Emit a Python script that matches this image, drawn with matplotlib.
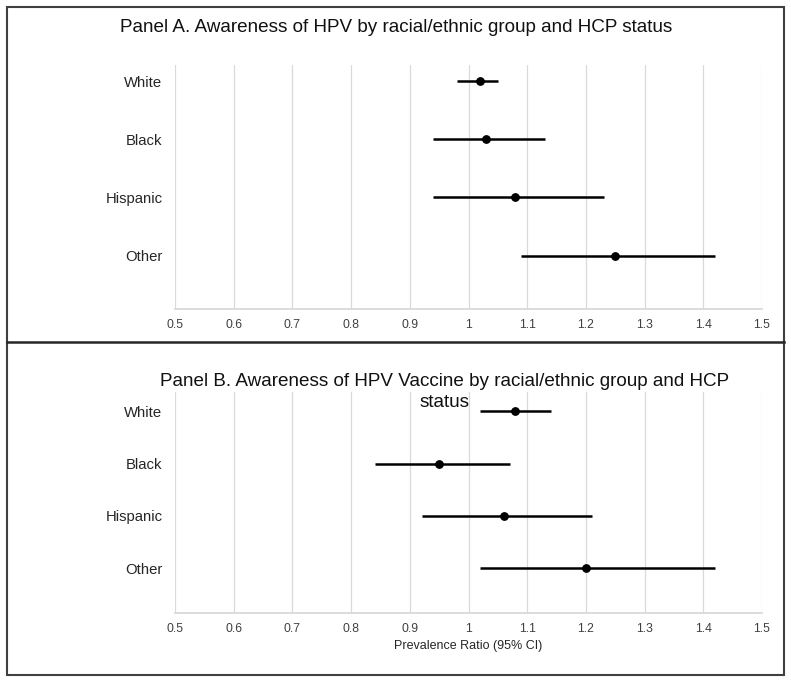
import matplotlib
matplotlib.use('Agg')
import matplotlib.pyplot as plt
from matplotlib.patches import Rectangle
from matplotlib.lines import Line2D
import numpy as np

plt.rcParams['font.family'] = ['Liberation Sans', 'DejaVu Sans']

groups = ['White', 'Black', 'Hispanic', 'Other']

# Panel A: awareness of HPV
pr_a = [1.02, 1.03, 1.08, 1.25]
lo_a = [0.98, 0.94, 0.94, 1.09]
hi_a = [1.05, 1.13, 1.23, 1.42]

# Panel B: awareness of HPV vaccine
pr_b = [1.08, 0.95, 1.06, 1.20]
lo_b = [1.02, 0.84, 0.92, 1.02]
hi_b = [1.14, 1.07, 1.21, 1.42]

xticks = [0.5, 0.6, 0.7, 0.8, 0.9, 1.0, 1.1, 1.2, 1.3, 1.4, 1.5]
xtick_labels = ['0.5', '0.6', '0.7', '0.8', '0.9', '1', '1.1', '1.2', '1.3', '1.4', '1.5']

W, H = 791, 682
fig = plt.figure(figsize=(W / 100, H / 100), dpi=100)


def px_axes(left, top, right, bottom):
    return fig.add_axes([left / W, 1 - bottom / H, (right - left) / W, (bottom - top) / H])


def draw_panel(ax, pr, lo, hi, ylim):
    pos = np.arange(len(groups))[::-1]
    pr = np.array(pr)
    err = [pr - np.array(lo), np.array(hi) - pr]
    ax.errorbar(pr, pos, xerr=err, fmt='o', color='black', ecolor='black',
                elinewidth=1.8, markersize=5.3, capsize=0, zorder=3)
    ax.set_xlim(0.5, 1.5)
    ax.set_ylim(*ylim)
    ax.set_xticks(xticks)
    ax.set_xticklabels(xtick_labels, fontsize=8.8, color='#404040')
    ax.set_yticks(pos)
    ax.set_yticklabels(groups, fontsize=10.7, color='#262626')
    ax.tick_params(length=0, pad=7)
    ax.tick_params(axis='y', pad=9)
    ax.grid(axis='x', color='#d9d9d9', linewidth=0.9)
    ax.set_axisbelow(True)
    for s in ['top', 'right', 'left']:
        ax.spines[s].set_visible(False)
    ax.spines['bottom'].set_color('#d9d9d9')
    ax.spines['bottom'].set_linewidth(1.3)
    ax.set_facecolor('none')


ax1 = px_axes(175, 65, 762, 309)
draw_panel(ax1, pr_a, lo_a, hi_a, (-0.92, 3.28))

ax2 = px_axes(175, 392, 762, 613)
draw_panel(ax2, pr_b, lo_b, hi_b, (-0.86, 3.37))
ax2.set_xlabel('Prevalence Ratio (95% CI)', fontsize=9, color='#262626', labelpad=4)

fig.text(396 / W, 1 - 28 / H, 'Panel A. Awareness of HPV by racial/ethnic group and HCP status',
         ha='center', va='center', fontsize=13.6, color='#111111')
fig.text(445 / W, 1 - 392 / H, 'Panel B. Awareness of HPV Vaccine by racial/ethnic group and HCP\nstatus',
         ha='center', va='center', fontsize=13.6, color='#111111', linespacing=1.3)

# outer frame and panel separator
fig.patches.append(Rectangle((7 / W, 1 - 675 / H), 777 / W, 668 / H, transform=fig.transFigure,
                             fill=False, edgecolor='#404040', linewidth=1.5))
fig.lines.append(Line2D([7 / W, 784 / W], [1 - 342 / H, 1 - 342 / H], transform=fig.transFigure,
                        color='#262626', linewidth=1.8))

plt.savefig('out.png', dpi=100)
